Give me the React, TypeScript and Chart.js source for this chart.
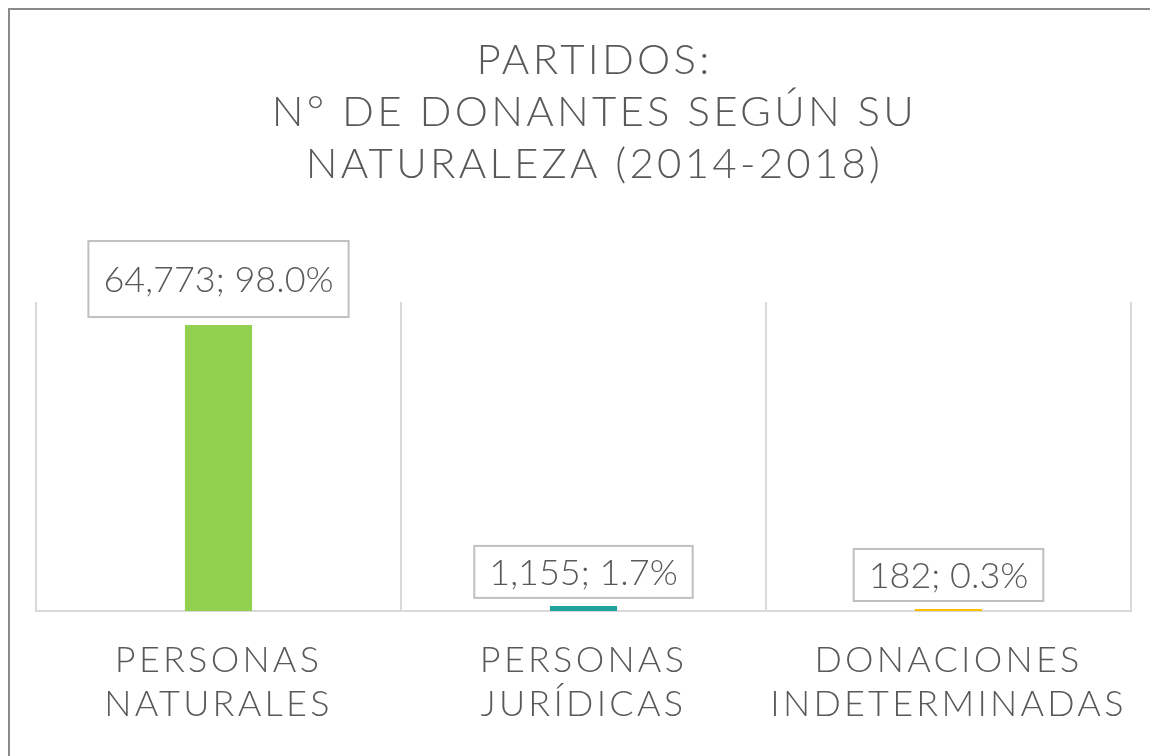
import React, { useEffect, useRef } from 'react';
import { Chart, registerables } from 'chart.js';

Chart.register(...registerables);

const titleLines = ['PARTIDOS:', 'N° DE DONANTES SEGÚN SU', 'NATURALEZA (2014-2018)'];
const categories = [
  ['PERSONAS', 'NATURALES'],
  ['PERSONAS', 'JURÍDICAS'],
  ['DONACIONES', 'INDETERMINADAS'],
];
const donors = [64773, 1155, 182];
const shares = [98.0, 1.7, 0.3];
const barColors = ['#92D050', '#1FA39B', '#FFC000'];
const yMax = 70000;

const FONT = 'Lato, "Open Sans", sans-serif';
const TEXT = '#595959';
const SPACING = '3.25px';

const spacingPlugin = {
  id: 'spacing',
  beforeUpdate(chart: any) {
    chart.ctx.letterSpacing = SPACING;
  },
  beforeDraw(chart: any) {
    chart.ctx.letterSpacing = SPACING;
  },
};

const boxLabelPlugin = {
  id: 'boxLabels',
  afterDatasetsDraw(chart: any, _args: any, opts: any) {
    const ctx = chart.ctx;
    const meta = chart.getDatasetMeta(0);
    ctx.save();
    ctx.letterSpacing = '0px';
    ctx.font = `${opts.weight} ${opts.size}px ${FONT}`;
    meta.data.forEach((bar: any, i: number) => {
      const text = `${donors[i].toLocaleString('en-US')}; ${shares[i].toFixed(1)}%`;
      const w = ctx.measureText(text).width;
      const padY = opts.padY[i];
      const boxW = w + 2 * opts.padX;
      const boxH = opts.size + 2 * padY;
      const bottom = bar.y - opts.gap;
      const x = bar.x - boxW / 2;
      const y = bottom - boxH;
      ctx.fillStyle = '#ffffff';
      ctx.fillRect(x, y, boxW, boxH);
      ctx.strokeStyle = '#c0c0c0';
      ctx.lineWidth = 2;
      ctx.strokeRect(x, y, boxW, boxH);
      ctx.fillStyle = TEXT;
      ctx.textAlign = 'center';
      ctx.textBaseline = 'middle';
      ctx.fillText(text, bar.x, y + boxH / 2 + 1);
    });
    ctx.restore();
  },
};

export default function App() {
  const ref = useRef<HTMLCanvasElement | null>(null);

  useEffect(() => {
    if (!ref.current) return;
    const chart = new Chart(ref.current, {
      type: 'bar',
      data: {
        labels: categories,
        datasets: [
          {
            data: donors,
            backgroundColor: barColors,
            borderWidth: 0,
            barPercentage: 1,
            categoryPercentage: 0.184,
            minBarLength: 2,
          },
        ],
      },
      options: {
        responsive: false,
        animation: false,
        layout: { padding: { left: 26, right: 17, top: 24, bottom: 29 } },
        plugins: {
          legend: { display: false },
          tooltip: { enabled: false },
          title: {
            display: true,
            text: titleLines,
            color: TEXT,
            font: { family: FONT, size: 42, weight: '300', lineHeight: 1.238 },
            padding: { top: 0, bottom: 112 },
          },
          boxLabels: { size: 36, weight: '300', padX: 15, padY: [20, 8, 8], gap: 8 },
        } as any,
        scales: {
          x: {
            grid: { color: '#d9d9d9', lineWidth: 2, offset: true, drawTicks: false },
            border: { display: true, color: '#d9d9d9', width: 2 },
            ticks: {
              color: TEXT,
              font: { family: FONT, size: 36, weight: '300', lineHeight: 1.236 },
              padding: 27,
              maxRotation: 0,
              autoSkip: false,
            },
            afterFit: (scale: any) => {
              scale.height = 116;
            },
          },
          y: { display: false, min: 0, max: yMax },
          yRight: {
            position: 'right',
            display: true,
            grid: { display: false },
            border: { display: false },
            ticks: { display: false },
            afterFit: (scale: any) => {
              scale.width = 22;
            },
          },
        } as any,
      },
      plugins: [spacingPlugin, boxLabelPlugin],
    });
    return () => chart.destroy();
  }, []);

  return (
    <div
      style={{
        position: 'fixed',
        left: 8,
        top: 8,
        width: 1180,
        height: 760,
        borderLeft: '2px solid #8a8a8a',
        borderTop: '2px solid #8a8a8a',
        background: '#fff',
        overflow: 'hidden',
      }}
    >
      <canvas ref={ref} width={1160} height={746} style={{ display: 'block' }} />
    </div>
  );
}
